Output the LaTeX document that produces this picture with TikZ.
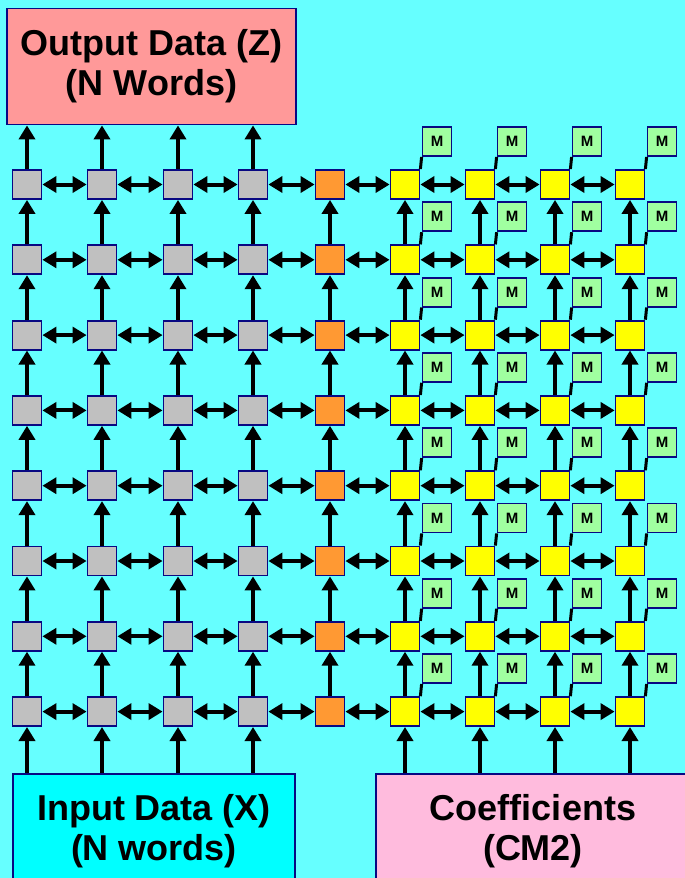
\documentclass[tikz,border=0pt]{standalone}
\usepackage{fontspec}
\setmainfont{Liberation Sans}
\usetikzlibrary{arrows.meta}
\definecolor{bgc}{RGB}{102,255,255}
\definecolor{outpink}{RGB}{255,153,153}
\definecolor{coefpink}{RGB}{255,187,221}
\definecolor{inpcyan}{RGB}{0,255,255}
\definecolor{cgray}{RGB}{192,192,192}
\definecolor{corange}{RGB}{255,153,51}
\definecolor{cyellow}{RGB}{255,255,0}
\definecolor{mgreen}{RGB}{160,255,160}
\definecolor{navyc}{RGB}{8,8,130}
\newcommand\bxfont{\fontsize{36}{40}\selectfont\bfseries}
\begin{document}
\begin{tikzpicture}[x=1pt,y=-1pt,
  cell/.style={draw=navyc, line width=1.8pt, minimum size=29pt, inner sep=0pt},
  gcell/.style={cell, fill=cgray},
  ocell/.style={cell, fill=corange},
  ycell/.style={cell, fill=cyellow},
  mbox/.style={cell, fill=mgreen, font=\fontsize{15}{15}\selectfont\bfseries},
  bigbox/.style={draw=navyc, line width=1.8pt, inner sep=0pt, align=center, font=\bxfont},
  arr/.style={line width=4pt, -{Triangle[length=14pt,width=16pt]}},
  darr/.style={line width=4pt, {Triangle[length=14pt,width=16pt]}-{Triangle[length=14pt,width=16pt]}},
  mline/.style={line width=3pt}]
\fill[bgc] (0,0) rectangle (685,878);
\useasboundingbox (0,0) rectangle (685,878);
\clip (0,0) rectangle (685,878);

% big boxes
\node[bigbox, fill=outpink, minimum width=289pt, minimum height=116pt] (out) at (151.5,66.5) {Output Data (Z)\\(N Words)};
\node[bigbox, fill=inpcyan, minimum width=282pt, minimum height=114pt] (inp) at (154,831) {Input Data (X)\\(N words)};
\node[bigbox, fill=coefpink, minimum width=314pt, minimum height=114pt] (coef) at (533,831) {Coefficients\\(CM2)};

% cells
\foreach \r [count=\ri] in {184.5,259.8,335.1,410.4,485.7,561,636.3,711.6} {
  \foreach \c [count=\ci] in {27,102,178,253} {
    \node[gcell] (c-\ri-\ci) at (\c,\r) {};
  }
  \node[ocell] (c-\ri-5) at (330,\r) {};
  \foreach \c [count=\ci from 6] in {405,480,555,630} {
    \node[ycell] (c-\ri-\ci) at (\c,\r) {};
    \node[mbox] (m-\ri-\ci) at ({\c+32},{\r-43}) {M};
    \draw[mline] (c-\ri-\ci.north east) -- (m-\ri-\ci.south west);
  }
}

% horizontal double arrows
\foreach \ri in {1,...,8} {
  \foreach \ci [evaluate=\ci as \cn using int(\ci+1)] in {1,...,8} {
    \draw[darr] (c-\ri-\ci) -- (c-\ri-\cn);
  }
}
% vertical arrows
\foreach \ri [evaluate=\ri as \rn using int(\ri+1)] in {1,...,7} {
  \foreach \ci in {1,...,9} {
    \draw[arr] (c-\rn-\ci) -- (c-\ri-\ci);
  }
}
% to output / from inputs
\foreach \ci in {1,...,4} {
  \draw[arr] (c-1-\ci) -- (c-1-\ci |- out.south);
  \draw[arr] (c-8-\ci |- inp.north) -- (c-8-\ci);
}
\foreach \ci in {6,...,9} {
  \draw[arr] (c-8-\ci |- coef.north) -- (c-8-\ci);
}
\end{tikzpicture}
\end{document}
